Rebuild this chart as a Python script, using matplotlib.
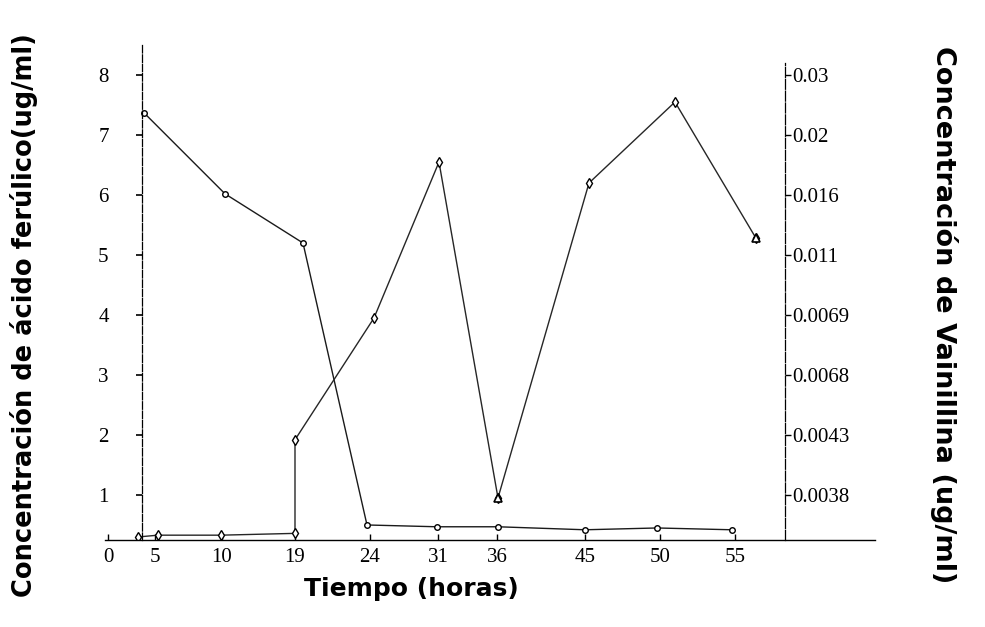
import matplotlib
matplotlib.use("Agg")
import matplotlib.pyplot as plt

# the time axis of the original is not drawn to scale, so every point is
# placed on an axis position; tick labels carry the hours
x_tick_pos = [0.8, 5.5, 12.2, 19.5, 27.0, 33.8, 39.7, 48.5, 56.0, 63.5]
x_tick_labels = ["0", "5", "10", "19", "24", "31", "36", "45", "50", "55"]

# ferulic acid (ug/ml), left axis
ferulico_x = [4.4, 12.5, 20.3, 26.7, 33.7, 39.8, 48.5, 55.7, 63.2]
ferulico_y = [7.37, 6.02, 5.2, 0.5, 0.47, 0.47, 0.42, 0.45, 0.42]

# vanillin, drawn against the same positions, read with the right axis labels
vainillina_x = [3.8, 5.8, 12.1, 19.5, 19.5, 27.4, 33.9, 39.8, 48.9, 57.5, 65.6]
vainillina_y = [0.3, 0.33, 0.33, 0.36, 1.92, 3.95, 6.55, 0.95, 6.2, 7.55, 5.28]
triangulos = [7, 10]

y_ticks = [8, 7, 6, 5, 4, 3, 2, 1]
y_right_labels = ["0.03", "0.02", "0.016", "0.011", "0.0069", "0.0068", "0.0043", "0.0038"]

plt.rcParams["font.family"] = ["Liberation Serif", "DejaVu Serif"]

fig = plt.figure(figsize=(9.85, 6.27), dpi=100)
ax = fig.add_axes([0.1066, 0.1388, 0.7817, 0.7894])

ax.plot(ferulico_x, ferulico_y, color="#1a1a1a", lw=1.0, marker="o", ms=4,
        mfc="white", mec="black", mew=1.0)
ax.plot(vainillina_x, vainillina_y, color="#262626", lw=1.0, marker="d", ms=5,
        mfc="white", mec="black", mew=1.0)
ax.plot([vainillina_x[i] for i in triangulos], [vainillina_y[i] for i in triangulos],
        ls="none", marker="^", ms=6, mfc="white", mec="black", mew=1.2)

ax.set_xlim(0.5, 77.5)
ax.set_ylim(0.25, 8.5)

ax.spines["top"].set_visible(False)
ax.spines["right"].set_visible(False)
ax.spines["left"].set_position(("data", 4.2))
ax.spines["left"].set_linestyle((0, (6, 1.5)))
ax.spines["left"].set_linewidth(0.9)
ax.spines["bottom"].set_linewidth(1.0)

ax.set_yticks(y_ticks)
ax.set_yticklabels([str(v) for v in y_ticks])
ax.tick_params(axis="y", direction="out", length=4, width=1.2, labelsize=15, pad=20)
ax.set_xticks(x_tick_pos)
ax.set_xticklabels(x_tick_labels)
ax.tick_params(axis="x", direction="in", length=4, width=1.0, labelsize=15, pad=6)

ax2 = ax.twinx()
ax2.set_ylim(ax.get_ylim())
for s in ["top", "left", "bottom"]:
    ax2.spines[s].set_visible(False)
ax2.spines["right"].set_position(("data", 68.5))
ax2.spines["right"].set_bounds(0.25, 8.2)
ax2.spines["right"].set_linestyle((0, (8, 1.5)))
ax2.spines["right"].set_linewidth(0.9)
ax2.set_yticks(y_ticks)
ax2.set_yticklabels(y_right_labels)
ax2.tick_params(axis="y", direction="out", length=4, width=1.0, labelsize=15, pad=1)

bold = ["DejaVu Sans"]
fig.text(0.024, 0.498, "Concentración de ácido ferúlico(ug/ml)", rotation=90,
         ha="center", va="center", fontsize=18.5, fontweight="heavy", family=bold)
fig.text(0.958, 0.498, "Concentración de Vainillina (ug/ml)", rotation=270,
         ha="center", va="center", fontsize=19.5, fontweight="heavy", family=bold)
fig.text(0.418, 0.06, "Tiempo (horas)", ha="center", va="center",
         fontsize=18, fontweight="heavy", family=bold)

fig.savefig("out.png", dpi=100)
